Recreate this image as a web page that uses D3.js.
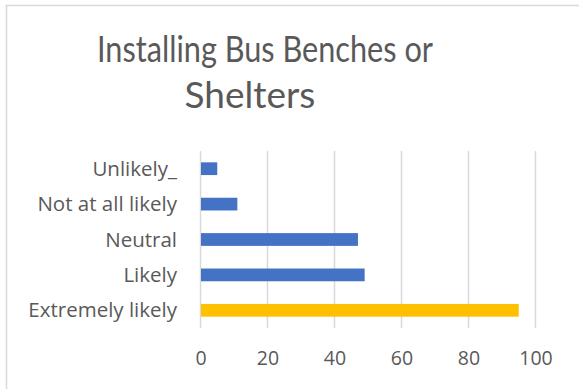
<!DOCTYPE html>
<html>
<head>
<meta charset="utf-8">
<script src="https://cdn.jsdelivr.net/npm/d3@7"></script>
<style>
html,body{margin:0;padding:0;background:#fff;}
svg{display:block;}
text{font-family:"Carlito","Calibri","Open Sans",sans-serif;fill:#595959;}
</style>
</head>
<body>
<svg id="chart" width="579" height="389"></svg>
<script>
const categories = ["Unlikely_", "Not at all likely", "Neutral", "Likely", "Extremely likely"];
const values = [5, 11, 47, 49, 95];
const barColors = ["#4472c4", "#4472c4", "#4472c4", "#4472c4", "#ffc000"];
const tickValues = [0, 20, 40, 60, 80, 100];
const titleLines = ["Installing Bus Benches or", "Shelters"];

const svg = d3.select("#chart");

// chart border (left and top visible)
svg.append("path")
  .attr("d", "M6.5,389 L6.5,5.5 L579,5.5")
  .attr("fill", "none")
  .attr("stroke", "#d9d9d9")
  .attr("stroke-width", 1.5);

const x = d3.scaleLinear().domain([0, 100]).range([200.5, 535.5]);
const y = d3.scaleBand().domain(categories).range([151, 328]).paddingInner(0.64).paddingOuter(0.32);

// gridlines
svg.append("g").selectAll("line").data(tickValues).join("line")
  .attr("x1", d => x(d)).attr("x2", d => x(d))
  .attr("y1", 151).attr("y2", 328)
  .attr("stroke", "#d9d9d9").attr("stroke-width", 1.5);

// bars
svg.append("g").selectAll("rect").data(values).join("rect")
  .attr("x", x(0) + 0.5)
  .attr("y", (d, i) => y(categories[i]))
  .attr("width", d => x(d) - x(0) - 0.5)
  .attr("height", y.bandwidth())
  .attr("fill", (d, i) => barColors[i]);

// x axis labels
const xAxis = d3.axisBottom(x).tickValues(tickValues).tickSize(0).tickPadding(0);
const gx = svg.append("g").attr("transform", "translate(0,351)").call(xAxis);
gx.select(".domain").remove();
gx.selectAll("text").attr("dy", "0.71em").style("font-size", "19.5px").attr("fill", "#595959").style("font-family", "'Open Sans',sans-serif");

// y axis labels
const yAxis = d3.axisLeft(y).tickSize(0).tickPadding(0);
const gy = svg.append("g").attr("transform", "translate(177,0)").call(yAxis);
gy.select(".domain").remove();
gy.selectAll("text").style("font-size", "20.5px").attr("fill", "#595959").attr("dy", "0.35em").style("font-family", "'Open Sans',sans-serif");

// title
const titleCenters = [265, 250];
const titleBaselines = [62, 108];
const t = svg.append("g").selectAll("text").data(titleLines).join("text")
  .attr("x", (d, i) => titleCenters[i])
  .attr("y", (d, i) => titleBaselines[i])
  .attr("text-anchor", "middle")
  .style("font-size", "37px")
  .style("font-family", "Lato,sans-serif")
  .text(d => d);
// fit first line to the reference width
t.filter((d, i) => i === 0).each(function() {
  if (this.getComputedTextLength() > 336) {
    d3.select(this).attr("textLength", 336).attr("lengthAdjust", "spacingAndGlyphs");
  }
});
</script>
</body>
</html>
